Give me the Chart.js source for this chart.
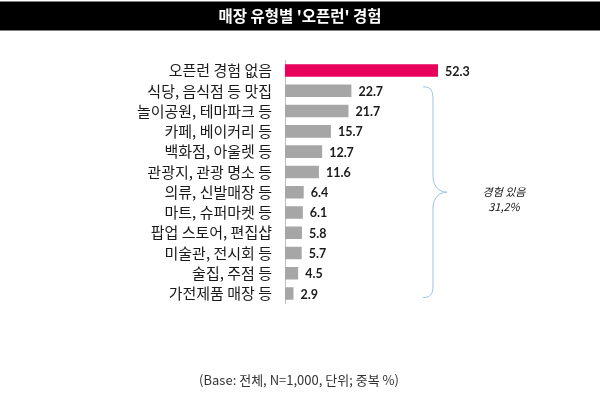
<!DOCTYPE html>
<html>
<head>
<meta charset="utf-8">
<script src="https://cdn.jsdelivr.net/npm/chart.js@4/dist/chart.umd.min.js"></script>
<style>
  html, body { margin: 0; padding: 0; background: #fff; }
  #wrap { width: 600px; height: 395px; position: relative; }
</style>
</head>
<body>
<div id="wrap"><canvas id="c" width="600" height="395"></canvas></div>
<script>
const categories = [
  '오픈런 경험 없음', '식당, 음식점 등 맛집', '놀이공원, 테마파크 등', '카페, 베이커리 등',
  '백화점, 아울렛 등', '관광지, 관광 명소 등', '의류, 신발매장 등', '마트, 슈퍼마켓 등',
  '팝업 스토어, 편집샵', '미술관, 전시회 등', '술집, 주점 등', '가전제품 매장 등'
];
const values = [52.3, 22.7, 21.7, 15.7, 12.7, 11.6, 6.4, 6.1, 5.8, 5.7, 4.5, 2.9];
const valueLabels = ['52.3', '22.7', '21.7', '15.7', '12.7', '11.6', '6.4', '6.1', '5.8', '5.7', '4.5', '2.9'];
const titleText = "매장 유형별 '오픈런' 경험";
const noteLines = ['경험 있음', '31,2%'];
const footerText = '(Base: 전체, N=1,000, 단위; 중복 %)';

const KFONT = '"Noto Sans CJK KR", "Noto Sans", sans-serif';

const barColors = values.map((v, i) => i === 0 ? '#E8005A' : '#A6A6A6');

const decor = {
  id: 'decor',
  beforeDraw(chart) {
    const ctx = chart.ctx;
    ctx.save();
    ctx.fillStyle = '#fff';
    ctx.fillRect(0, 0, chart.width, chart.height);
    // title bar
    ctx.fillStyle = '#808080';
    ctx.fillRect(0, 1, chart.width, 30);
    ctx.fillStyle = '#000';
    ctx.fillRect(0, 2, chart.width, 28);
    ctx.fillStyle = '#fff';
    ctx.font = 'bold 15.5px ' + KFONT;
    ctx.textAlign = 'center';
    ctx.textBaseline = 'middle';
    ctx.fillText(titleText, 300, 16);
    ctx.restore();
  },
  afterDatasetsDraw(chart) {
    const ctx = chart.ctx;
    const meta = chart.getDatasetMeta(0);
    ctx.save();
    ctx.fillStyle = '#1a1a1a';
    ctx.font = 'bold 12.5px Lato, "DejaVu Sans", sans-serif';
    ctx.textAlign = 'left';
    ctx.textBaseline = 'middle';
    meta.data.forEach((bar, i) => {
      ctx.fillText(valueLabels[i], bar.x + 7, bar.y + 1);
    });

    // brace spanning categories 1..11
    const y0 = meta.data[1].y - 4;
    const y1 = meta.data[meta.data.length - 1].y + 4;
    const ym = (y0 + y1) / 2;
    const xl = 423, xv = 433, xt = 447;
    ctx.strokeStyle = '#9DC3E6';
    ctx.lineWidth = 1;
    ctx.beginPath();
    ctx.moveTo(xl, y0);
    ctx.bezierCurveTo(xv, y0, xv, y0 + 6, xv, y0 + 16);
    ctx.lineTo(xv, ym - 16);
    ctx.bezierCurveTo(xv, ym - 4, xt - 6, ym, xt, ym);
    ctx.bezierCurveTo(xt - 6, ym, xv, ym + 4, xv, ym + 16);
    ctx.lineTo(xv, y1 - 16);
    ctx.bezierCurveTo(xv, y1 - 6, xv, y1, xl, y1);
    ctx.stroke();

    // note
    ctx.fillStyle = '#111';
    ctx.font = 'italic 11px ' + KFONT;
    ctx.textAlign = 'center';
    ctx.fillText(noteLines[0], 504, ym);
    ctx.fillText(noteLines[1], 504, ym + 15);

    // footer
    ctx.fillStyle = '#333';
    ctx.font = '13px ' + KFONT;
    ctx.fillText(footerText, 299, 380);
    ctx.restore();
  }
};

new Chart(document.getElementById('c'), {
  type: 'bar',
  data: {
    labels: categories,
    datasets: [{
      data: values,
      backgroundColor: barColors,
      borderWidth: 0,
      barPercentage: 0.62,
      categoryPercentage: 1.0
    }]
  },
  options: {
    indexAxis: 'y',
    responsive: false,
    animation: false,
    devicePixelRatio: 1,
    layout: { padding: { left: 0, right: 22.5, top: 60.4, bottom: 91.3 } },
    plugins: { legend: { display: false }, title: { display: false }, tooltip: { enabled: false } },
    scales: {
      x: {
        display: false,
        min: 0,
        max: 100
      },
      y: {
        afterFit(scale) { scale.width = 285; },
        grid: { display: true, drawOnChartArea: false, drawTicks: false, color: 'rgba(0,0,0,0)' },
        border: { display: true, color: '#BFBFBF', width: 1 },
        ticks: {
          autoSkip: false,
          padding: 13,
          color: '#1a1a1a',
          font: { family: KFONT, size: 15 }
        }
      }
    }
  },
  plugins: [decor]
});
</script>
</body>
</html>
